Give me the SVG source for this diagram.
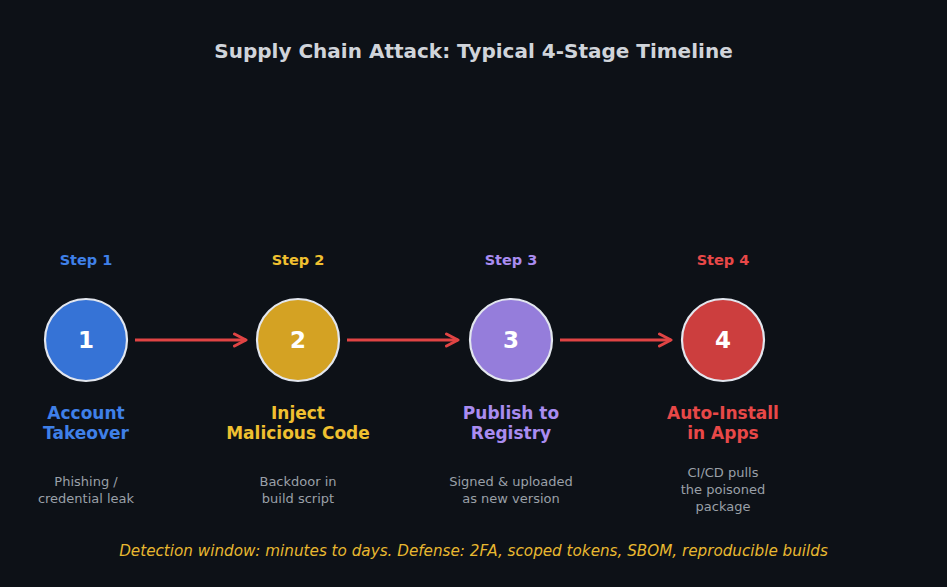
<svg xmlns="http://www.w3.org/2000/svg" width="947" height="587" viewBox="0 0 947 587">
<style>
text{font-family:"DejaVu Sans",sans-serif;text-anchor:middle}
.title{font-size:20px;font-weight:bold;fill:#d0d4da}
.step{font-size:14.5px;font-weight:bold}
.num{font-size:23px;font-weight:bold;fill:#ffffff}
.name{font-size:17px;font-weight:bold}
.desc{font-size:13px;fill:#9aa0a8}
.foot{font-size:15.2px;font-style:italic;fill:#e8b830}
.circ{stroke:#e2e6ee;stroke-width:2.2}
.arrow{stroke:#e04444;stroke-width:3;fill:none}
</style>
<defs>
<marker id="ah" viewBox="0 0 16 16" refX="13.5" refY="8" markerWidth="16" markerHeight="16" markerUnits="userSpaceOnUse" orient="auto">
<path d="M2,2 L13.5,8 L2,14" fill="none" stroke="#e04444" stroke-width="3" stroke-linecap="round" stroke-linejoin="round"/>
</marker>
</defs>
<rect width="947" height="587" fill="#0d1117"/>
<text class="title" x="473.5" y="58">Supply Chain Attack: Typical 4-Stage Timeline</text>
<g id="connectors">
<line class="arrow" x1="135" y1="340" x2="246" y2="340" marker-end="url(#ah)"/>
<line class="arrow" x1="347" y1="340" x2="458" y2="340" marker-end="url(#ah)"/>
<line class="arrow" x1="560" y1="340" x2="671" y2="340" marker-end="url(#ah)"/>
</g>
<g id="node1">
<text class="step" x="86" y="265" fill="#3f80e8">Step 1</text>
<circle class="circ" cx="86" cy="340" r="41" fill="#3673d6"/>
<text class="num" x="86" y="348">1</text>
<text class="name" x="86" y="419" fill="#3f80e8">Account</text>
<text class="name" x="86" y="439" fill="#3f80e8">Takeover</text>
<text class="desc" x="86" y="486">Phishing /</text>
<text class="desc" x="86" y="503">credential leak</text>
</g>
<g id="node2">
<text class="step" x="298" y="265" fill="#f0c030">Step 2</text>
<circle class="circ" cx="298" cy="340" r="41" fill="#d4a223"/>
<text class="num" x="298" y="348">2</text>
<text class="name" x="298" y="419" fill="#f0c030">Inject</text>
<text class="name" x="298" y="439" fill="#f0c030">Malicious Code</text>
<text class="desc" x="298" y="486">Backdoor in</text>
<text class="desc" x="298" y="503">build script</text>
</g>
<g id="node3">
<text class="step" x="511" y="265" fill="#a98cf0">Step 3</text>
<circle class="circ" cx="511" cy="340" r="41" fill="#957ddb"/>
<text class="num" x="511" y="348">3</text>
<text class="name" x="511" y="419" fill="#a98cf0">Publish to</text>
<text class="name" x="511" y="439" fill="#a98cf0">Registry</text>
<text class="desc" x="511" y="486">Signed &amp; uploaded</text>
<text class="desc" x="511" y="503">as new version</text>
</g>
<g id="node4">
<text class="step" x="723" y="265" fill="#e84848">Step 4</text>
<circle class="circ" cx="723" cy="340" r="41" fill="#cc3e3e"/>
<text class="num" x="723" y="348">4</text>
<text class="name" x="723" y="419" fill="#e84848">Auto-Install</text>
<text class="name" x="723" y="439" fill="#e84848">in Apps</text>
<text class="desc" x="723" y="477">CI/CD pulls</text>
<text class="desc" x="723" y="494">the poisoned</text>
<text class="desc" x="723" y="511">package</text>
</g>
<text class="foot" x="473.5" y="556">Detection window: minutes to days. Defense: 2FA, scoped tokens, SBOM, reproducible builds</text>
</svg>
